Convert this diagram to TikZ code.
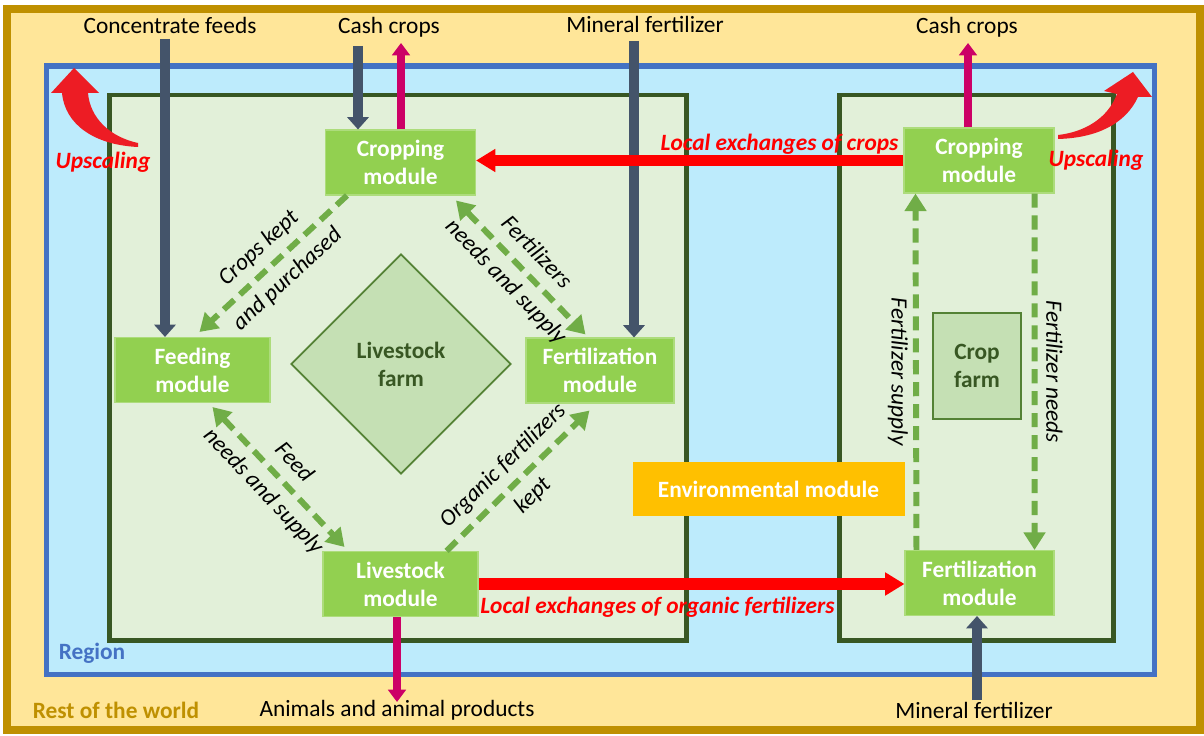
\documentclass[tikz,border=0pt]{standalone}
\usepackage{fontspec}
\setmainfont{Carlito}
\usetikzlibrary{arrows.meta,shapes.geometric}
\definecolor{worldline}{HTML}{BF9000}
\definecolor{worldfill}{HTML}{FFE699}
\definecolor{regionline}{HTML}{4472C4}
\definecolor{regionfill}{HTML}{BDEBFC}
\definecolor{farmline}{HTML}{385723}
\definecolor{farmfill}{HTML}{E2F0D9}
\definecolor{modfill}{HTML}{92D050}
\definecolor{corefill}{HTML}{C5E0B4}
\definecolor{coreline}{HTML}{548235}
\definecolor{flowgreen}{HTML}{70AD47}
\definecolor{inflow}{HTML}{44546A}
\definecolor{outflow}{HTML}{CC0066}
\definecolor{envfill}{HTML}{FFC000}
\definecolor{upred}{HTML}{ED1C24}
\tikzset{
	module/.style={rectangle, fill=modfill, draw=modfill!75!white, line width=0.6pt, text=white, align=center,
		minimum width=3cm, minimum height=1.3cm, font=\fontsize{13.3}{16}\selectfont\bfseries},
	corefarm/.style={fill=corefill, draw=coreline, line width=1pt, text=farmline, align=center, inner sep=0pt,
		font=\fontsize{13.3}{16}\selectfont\bfseries},
	tag/.style={font=\fontsize{13.3}{16}\selectfont\bfseries},
	redtag/.style={text=red, font=\fontsize{13.3}{16}\selectfont\bfseries\itshape},
	flowtag/.style={align=center, font=\fontsize{13.3}{24}\selectfont\itshape},
	darrow/.style={draw=inflow, line width=6pt, -{Triangle[width=12pt,length=7pt]}},
	marrow/.style={draw=outflow, line width=4.5pt, -{Triangle[width=10pt,length=7pt]}},
	rarrow/.style={draw=red, line width=6.3pt, -{Triangle[width=12.5pt,length=11pt]}},
	garrow/.style={draw=flowgreen, line width=3.4pt, dash pattern=on 8pt off 4.5pt},
	gtip/.style={-{Triangle[width=12pt,length=10pt]}},
	gtips/.style={{Triangle[width=12pt,length=10pt]}-{Triangle[width=12pt,length=10pt]}}
}
\begin{document}
\begin{tikzpicture}[x=0.02cm, y=-0.02cm, font=\fontsize{13.3}{16}\selectfont]
	\useasboundingbox (0,0) rectangle (1204,736);
	\draw[draw=worldline, fill=worldfill, line width=4.5pt] (7,9) rectangle (1200,730);
	\draw[draw=regionline, fill=regionfill, line width=3.4pt] (46.5,66) rectangle (1154.5,674.5);
	\draw[draw=farmline, fill=farmfill, line width=2.6pt] (109.5,95) rectangle (686.5,640.5);
	\draw[draw=farmline, fill=farmfill, line width=2.6pt] (839.5,95) rectangle (1113.5,640.5);

	\node (core)	at (401,364)	[corefarm, diamond, minimum width=4.4cm, minimum height=4.4cm]	{Livestock\\farm};
	\node (cropf)	at (977,366)	[corefarm, minimum width=1.76cm, minimum height=2.12cm]	{Crop\\farm};

	\node (cropL)	at (400.5,162.5)	[module]	{Cropping\\module};
	\node (feed)	at (192.5,370)	[module, minimum width=3.1cm]	{Feeding\\module};
	\node (fertL)	at (600,370.5)	[module, minimum width=2.96cm]	{Fertilization\\module};
	\node (live)	at (400.5,584)	[module, minimum width=3.1cm]	{Livestock\\module};
	\node (cropR)	at (979,160.5)	[module]	{Cropping\\module};
	\node (fertR)	at (979.5,583)	[module, minimum width=2.98cm]	{Fertilization\\module};
	\node (env)	at (768.5,489)	[module, fill=envfill, draw=envfill, minimum width=5.42cm, minimum height=1.04cm]	{Environmental module};

	\node (region)	at (92,653)	[tag, text=regionline]	{Region};
	\node (world)	at (116,710)	[tag, text=worldline]	{Rest of the world};
	\node (upL)	at (103,162)	[redtag]	{Upscaling};
	\node (upR)	at (1096,160)	[redtag]	{Upscaling};

	\node (tconc)	at (170,25)	{Concentrate feeds};
	\node (tcashL)	at (389,27)	{Cash crops};
	\node (tmin)	at (645,24)	{Mineral fertilizer};
	\node (tcashR)	at (967,27)	{Cash crops};
	\node (tanim)	at (397,710)	{Animals and animal products};
	\node (tminR)	at (974,710)	{Mineral fertilizer};

	\coordinate (conc)	at (165,39);
	\coordinate (cashin)	at (358,46);
	\coordinate (cashout)	at (401,43);
	\coordinate (minin)	at (634,41);
	\coordinate (cashoutR)	at (968,43);
	\coordinate (animout)	at (397,702);
	\coordinate (mininR)	at (977,700);

	\draw[darrow] (conc) -- (conc |- feed.north);
	\draw[darrow] (cashin) -- (cashin |- cropL.north);
	\draw[marrow] (cashout |- cropL.north) -- (cashout);
	\draw[darrow] (minin) -- (minin |- fertL.north);
	\draw[marrow] (cashoutR |- cropR.north) -- (cashoutR);
	\draw[marrow] (animout |- live.south) -- (animout);
	\draw[darrow] (mininR) -- (mininR |- fertR.south);

	\draw[rarrow] (cropR.west) -- (cropR.west -| cropL.east)
		node[pos=0.29, above=-3pt, redtag] {Local exchanges of crops};
	\draw[rarrow] (live.east) -- (live.east -| fertR.west)
		node[pos=0.42, below=1pt, redtag] {Local exchanges of organic fertilizers};

	\draw[garrow, gtip] ([xshift=0.44cm]cropL.south west) -- ([xshift=1.7cm, yshift=0.1cm]feed.north west)
		node[midway, sloped, flowtag] {Crops kept\\and purchased};
	\draw[garrow, gtips] ([xshift=-0.4cm, yshift=-0.1cm]cropL.south east) -- ([xshift=1.2cm, yshift=0.06cm]fertL.north west)
		node[midway, sloped, flowtag] {Fertilizers\\needs and supply};
	\draw[garrow, gtips] ([xshift=1.96cm, yshift=-0.08cm]feed.south west) -- ([xshift=0.44cm, yshift=0.08cm]live.north west)
		node[midway, sloped, flowtag] {Feed\\needs and supply};
	\draw[garrow, gtip] ([xshift=-0.64cm]live.north east) -- ([xshift=1.28cm, yshift=-0.14cm]fertL.south west)
		node[midway, sloped, flowtag] {Organic fertilizers\\kept};
	\draw[garrow, gtip] ([xshift=0.24cm]fertR.north west) -- ([xshift=0.24cm]cropR.south west)
		node[midway, rotate=-90, below, flowtag, inner sep=3pt] {Fertilizer supply};
	\draw[garrow, gtip] ([xshift=-0.4cm]cropR.south east) -- ([xshift=-0.4cm]fertR.north east)
		node[midway, rotate=-90, above, flowtag, inner sep=5pt] {Fertilizer needs};

	\fill[upred] (138,147) .. controls (95,145) and (65,125) .. (62,93) -- (51,93) -- (74,68) -- (99,93) -- (88,93)
		.. controls (90,118) and (110,137) .. (138,143) -- cycle;
	\fill[upred] (1058,139) .. controls (1095,138) and (1125,125) .. (1138,97) -- (1152,97) -- (1133,72) -- (1104,91)
		-- (1117,94) .. controls (1108,118) and (1085,132) .. (1058,135) -- cycle;
\end{tikzpicture}
\end{document}
